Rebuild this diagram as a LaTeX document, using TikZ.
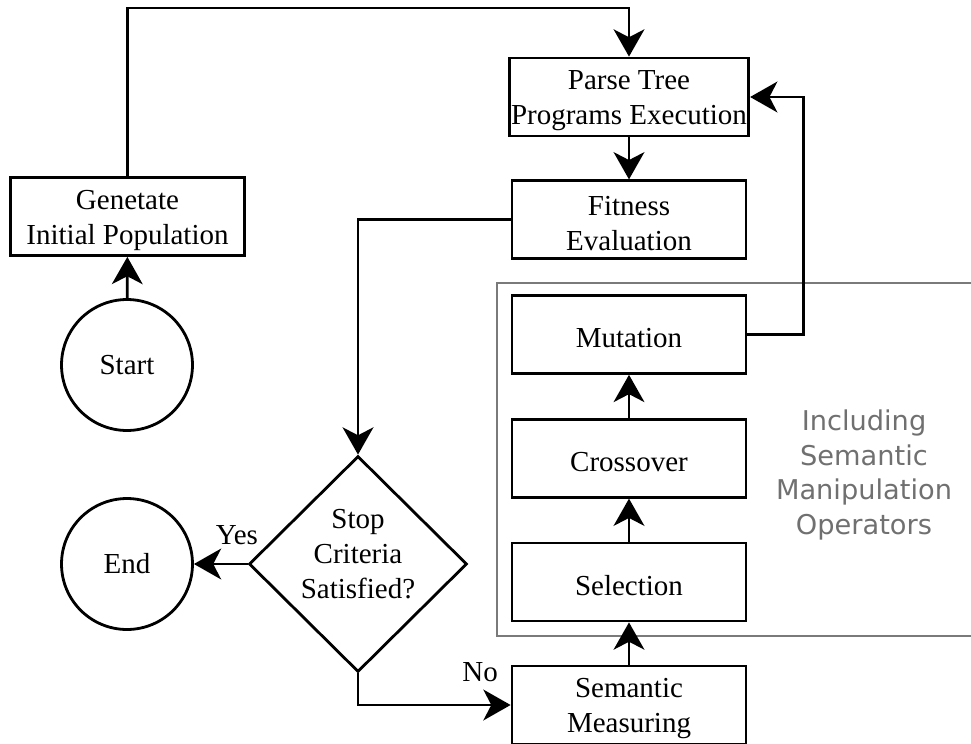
\documentclass[tikz,border=0pt]{standalone}
\usepackage{fontspec}
\setmainfont{Liberation Serif}
\newfontfamily\notefont{DejaVu Sans}
\usetikzlibrary{arrows.meta,positioning,shapes.geometric}
\definecolor{frame}{HTML}{7A7A7A}
\definecolor{note}{HTML}{707070}
\newcommand\lift{\rule{0pt}{15pt}}

\begin{document}
\begin{tikzpicture}[x=.02cm,y=-.02cm,line width=1.6pt,
  font=\fontsize{16.5}{20}\selectfont,
  box/.style={draw,minimum width=4.68cm,minimum height=1.56cm,inner sep=1pt,align=center},
  term/.style={draw,circle,minimum size=2.62cm,inner sep=0pt},
  decide/.style={draw,diamond,aspect=1,minimum width=4.36cm,minimum height=4.32cm,inner sep=0pt},
  arr/.style={-{Stealth[length=15.5pt,width=17.5pt,inset=4.5pt]}}]
\useasboundingbox (0,0) rectangle (971,744);
\draw[frame,line width=1.2pt] (975,283) -| (497,636) -- (975,636);
\node[note,font=\notefont\fontsize{15.5}{19.9}\selectfont,align=center] (lbl) at (864,475)
  {Including\\Semantic\\Manipulation\\Operators};
\node[box] (gen) at (127.5,216.5) {\lift Genetate\\Initial Population};
\node[term] (start) at (127,365) {Start};
\node[term] (end) at (127,564) {End};
\node[decide] (stop) at (358,564)
  {\raisebox{0pt}[0pt][0pt]{\begin{tabular}{@{}c@{}}Stop\\Criteria\\Satisfied?\end{tabular}}};
\node[box] (parse) at (629,97) {\lift Parse Tree\\Programs Execution};
\node[box,below=.84cm of parse] (fit) {\lift Fitness\\Evaluation};
\node[box] (meas) at (629,705) {\lift Semantic\\Measuring};
\node[box] (sel) at (629,582) {\lift Selection};
\node[box,above=.86cm of sel] (cross) {\lift Crossover};
\node[box,above=.86cm of cross] (mut) {\lift Mutation};
\coordinate (topbend) at (629,8);
\draw[arr] (start) -- (gen);
\draw[arr] (gen.north) |- (topbend) -- (parse.north);
\draw[arr] (parse) -- (fit);
\draw[arr] (fit.west) -| (stop.north);
\draw[arr] (stop.west) -- node[pos=.2,above=7pt]{Yes} (end.east);
\draw[arr] (stop.south) |- node[pos=.9,above=9pt]{No} (meas.west);
\draw[arr] (meas) -- (sel);
\draw[arr] (sel) -- (cross);
\draw[arr] (cross) -- (mut);
\draw[arr] (mut.east) -- ++(56,0) |- (parse.east);
\end{tikzpicture}
\end{document}
